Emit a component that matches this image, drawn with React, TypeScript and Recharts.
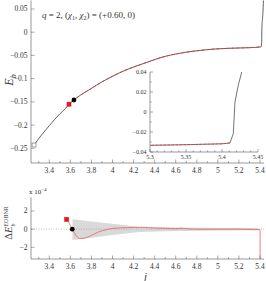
import React from "react";
import { ComposedChart, LineChart, Line, Area, XAxis, YAxis, ReferenceLine } from "recharts";

// binding energy curve E_b(j)
const jMain = [3.255, 3.3, 3.35, 3.4, 3.45, 3.5, 3.55, 3.587, 3.6, 3.634, 3.65, 3.7, 3.8, 3.9, 4.0, 4.1, 4.2, 4.3, 4.4, 4.5, 4.6, 4.7, 4.8, 4.9, 5.0, 5.1, 5.2, 5.3, 5.35, 5.4, 5.411, 5.4157, 5.418, 5.4226, 5.4274, 5.433];
const ebMain = [-0.243, -0.229, -0.215, -0.201, -0.188, -0.176, -0.165, -0.155, -0.152, -0.146, -0.143, -0.135, -0.121, -0.107, -0.095, -0.084, -0.075, -0.067, -0.059, -0.052, -0.047, -0.043, -0.04, -0.0375, -0.0358, -0.0347, -0.034, -0.0333, -0.0327, -0.0318, -0.031, -0.0217, 0.01, 0.0267, 0.04, 0.07];

// markers on the top panel: [open start, red, black]
const topMarkJ = [3.255, 3.587, 3.634];
const topMarkE = [-0.243, -0.155, -0.146];

// difference panel (units of 1e-4)
const jDiff = [3.565, 3.58, 3.6, 3.618, 3.64, 3.66, 3.69, 3.73, 3.78, 3.83, 3.865, 3.92, 3.99, 4.1, 4.2, 4.3, 4.4, 4.5, 4.6, 4.65, 4.7, 4.8, 5.0, 5.2, 5.35, 5.4, 5.402];
const dDiff = [1.08, 0.85, 0.4, 0.0, -0.45, -0.8, -1.03, -1.0, -0.8, -0.5, -0.32, -0.12, 0.06, 0.15, 0.19, 0.2, 0.12, 0.1, 0.05, 0.1, 0.05, 0.0, 0.0, 0.0, -0.05, -0.05, -4];
const jBand = [3.62, 3.8, 4.0, 4.26, 4.5, 4.8, 5.1, 5.38];
const bandLow = [-1.2, -0.95, -0.65, -0.3, -0.22, -0.18, -0.15, -0.13];
const bandHigh = [1.08, 0.85, 0.6, 0.25, 0.2, 0.16, 0.14, 0.12];
const botMarkJ = [3.565, 3.618];
const botMarkD = [1.08, 0];

// ticks
const xAll = [3.3, 3.4, 3.5, 3.6, 3.7, 3.8, 3.9, 4, 4.1, 4.2, 4.3, 4.4, 4.5, 4.6, 4.7, 4.8, 4.9, 5, 5.1, 5.2, 5.3, 5.4];
const xMajor = [3.4, 3.6, 3.8, 4, 4.2, 4.4, 4.6, 4.8, 5, 5.2, 5.4];
const xLabels = ["3.4", "3.6", "3.8", "4", "4.2", "4.4", "4.6", "4.8", "5", "5.2", "5.4"];
const topY = [0.05, 0, -0.05, -0.1, -0.15, -0.2, -0.25];
const topYLabels = ["0.05", "0", "\u22120.05", "\u22120.1", "\u22120.15", "\u22120.2", "\u22120.25"];
const botY = [2, 0, -2];
const botYLabels = ["2", "0", "\u22122"];
const inX = [5.3, 5.31, 5.32, 5.33, 5.34, 5.35, 5.36, 5.37, 5.38, 5.39, 5.4, 5.41, 5.42, 5.43, 5.44, 5.45];
const inXMajor = [5.3, 5.35, 5.4, 5.45];
const inXLabels = ["5.3", "5.35", "5.4", "5.45"];
const inY = [-0.04, -0.03, -0.02, -0.01, 0, 0.01, 0.02, 0.03, 0.04];
const inYMajor = [-0.04, -0.02, 0, 0.02, 0.04];
const inYLabels = ["\u22120.04", "\u22120.02", "0", "0.02", "0.04"];

const mainData = jMain.map((j, i) => ({ j, E: ebMain[i] }));
const redData = mainData.filter((d) => d.j >= 3.587 && d.j <= 5.411);
const diffData = jDiff.map((j, i) => ({ j, d: dDiff[i] }));
const bandData = jBand.map((j, i) => ({ j, range: [bandLow[i], bandHigh[i]] }));

const AX = "#555";
const TXT = "#333";
const FONT = "'Liberation Serif', 'DejaVu Serif', serif";
const RED = "#e53935";

const X_DOM: [number, number] = [3.2263, 5.438];
const TOP_DOM: [number, number] = [-0.2817, 0.0683];
const BOT_DOM: [number, number] = [-3.29, 3.49];

const findIdx = (arr: number[], v: number) => arr.findIndex((m) => Math.abs(m - v) < 1e-6);

function xTick(majors: number[], labels: string[] | null, side: "top" | "bottom", len: number, minor: number, off: number, fs: number) {
  return (p: any) => {
    const k = findIdx(majors, p.payload.value);
    const L = k >= 0 ? len : minor;
    const dir = side === "bottom" ? -1 : 1;
    return (
      <g>
        <line x1={p.x} x2={p.x} y1={p.y} y2={p.y + dir * L} stroke={AX} strokeWidth={0.5} />
        {labels && k >= 0 ? (
          <text x={p.x} y={p.y + off} textAnchor="middle" fontSize={fs} fontFamily={FONT} fill={TXT}>
            {labels[k]}
          </text>
        ) : null}
      </g>
    );
  };
}

function yTick(majors: number[], labels: string[] | null, side: "left" | "right", len: number, minor: number, off: number, fs: number) {
  return (p: any) => {
    const k = findIdx(majors, p.payload.value);
    const L = k >= 0 ? len : minor;
    const dir = side === "left" ? 1 : -1;
    return (
      <g>
        <line x1={p.x} x2={p.x + dir * L} y1={p.y} y2={p.y} stroke={AX} strokeWidth={0.5} />
        {labels && k >= 0 ? (
          <text x={p.x - off} y={p.y + fs * 0.33} textAnchor="end" fontSize={fs} fontFamily={FONT} fill={TXT}>
            {labels[k]}
          </text>
        ) : null}
      </g>
    );
  };
}

const axisLine = { stroke: AX, strokeWidth: 0.6 };

const squareDot = (fill: string, stroke: string) => (p: any) => (
  <rect key={`s${p.cx}`} x={p.cx - 2} y={p.cy - 2} width={4} height={4} fill={fill} stroke={stroke} strokeWidth={0.6} />
);
const circleDot = (p: any) => <circle key={`c${p.cx}`} cx={p.cx} cy={p.cy} r={2.4} fill="#000" />;

function TopPanel() {
  return (
    <ComposedChart width={266} height={176} margin={{ top: 0.5, right: 2, left: 0, bottom: 0 }}>
      <XAxis type="number" dataKey="j" domain={X_DOM} allowDataOverflow ticks={xAll} interval={0} height={13}
        tickLine={false} tickSize={0} tickMargin={0} axisLine={axisLine} tick={xTick(xMajor, xLabels, "bottom", 3.5, 2, 9.5, 7.5)} />
      <XAxis xAxisId="t" orientation="top" type="number" dataKey="j" domain={X_DOM} allowDataOverflow ticks={xAll} interval={0} height={0}
        tickLine={false} tickSize={0} tickMargin={0} axisLine={axisLine} tick={xTick(xMajor, null, "top", 3.5, 2, 0, 7)} />
      <YAxis type="number" domain={TOP_DOM} allowDataOverflow ticks={topY} interval={0} width={31}
        tickLine={false} tickSize={0} tickMargin={0} axisLine={axisLine} tick={yTick(topY, topYLabels, "left", 3.5, 2, 3.5, 7.5)} />
      <YAxis yAxisId="r" orientation="right" type="number" domain={TOP_DOM} allowDataOverflow ticks={topY} interval={0} width={0}
        tickLine={false} tickSize={0} tickMargin={0} axisLine={axisLine} tick={yTick(topY, null, "right", 3.5, 2, 0, 7)} />
      <Line data={mainData} dataKey="E" type="monotone" stroke="#3a3a3a" strokeWidth={0.8} dot={false} isAnimationActive={false} />
      <Line data={redData} dataKey="E" type="monotone" stroke={RED} strokeWidth={0.9} strokeDasharray="3 2" dot={false} isAnimationActive={false} />
      <Line data={[{ j: topMarkJ[0], E: topMarkE[0] }]} dataKey="E" stroke="none" dot={squareDot("#fff", "#666")} isAnimationActive={false} />
      <Line data={[{ j: topMarkJ[1], E: topMarkE[1] }]} dataKey="E" stroke="none" dot={squareDot("#e8141a", "#e8141a")} isAnimationActive={false} />
      <Line data={[{ j: topMarkJ[2], E: topMarkE[2] }]} dataKey="E" stroke="none" dot={circleDot} isAnimationActive={false} />
    </ComposedChart>
  );
}

function InsetPanel() {
  return (
    <LineChart width={140} height={96} margin={{ top: 4, right: 7, left: 0, bottom: 0 }}>
      <XAxis type="number" dataKey="j" domain={[5.3, 5.45]} allowDataOverflow ticks={inX} interval={0} height={12}
        tickLine={false} tickSize={0} tickMargin={0} axisLine={axisLine} tick={xTick(inXMajor, inXLabels, "bottom", 3, 1.6, 6.5, 6)} />
      <XAxis xAxisId="t" orientation="top" type="number" dataKey="j" domain={[5.3, 5.45]} allowDataOverflow ticks={inX} interval={0} height={0}
        tickLine={false} tickSize={0} tickMargin={0} axisLine={axisLine} tick={xTick(inXMajor, null, "top", 3, 1.6, 0, 6)} />
      <YAxis type="number" domain={[-0.04, 0.04]} allowDataOverflow ticks={inY} interval={0} width={25}
        tickLine={false} tickSize={0} tickMargin={0} axisLine={axisLine} tick={yTick(inYMajor, inYLabels, "left", 3, 1.6, 3.5, 6)} />
      <YAxis yAxisId="r" orientation="right" type="number" domain={[-0.04, 0.04]} allowDataOverflow ticks={inY} interval={0} width={0}
        tickLine={false} tickSize={0} tickMargin={0} axisLine={axisLine} tick={yTick(inYMajor, null, "right", 3, 1.6, 0, 6)} />
      <Line data={mainData} dataKey="E" type="linear" stroke="#3a3a3a" strokeWidth={0.7} dot={false} isAnimationActive={false} />
      <Line data={redData} dataKey="E" type="linear" stroke={RED} strokeWidth={0.8} strokeDasharray="2.5 1.5" dot={false} isAnimationActive={false} />
    </LineChart>
  );
}

function BottomPanel() {
  return (
    <ComposedChart width={266} height={91} margin={{ top: 7.5, right: 2, left: 0, bottom: 0 }}>
      <XAxis type="number" dataKey="j" domain={X_DOM} allowDataOverflow ticks={xAll} interval={0} height={22}
        tickLine={false} tickSize={0} tickMargin={0} axisLine={axisLine} tick={xTick(xMajor, xLabels, "bottom", 3.5, 2, 9.5, 7.5)} />
      <XAxis xAxisId="t" orientation="top" type="number" dataKey="j" domain={X_DOM} allowDataOverflow ticks={xAll} interval={0} height={0}
        tickLine={false} tickSize={0} tickMargin={0} axisLine={axisLine} tick={xTick(xMajor, null, "top", 3.5, 2, 0, 7)} />
      <YAxis type="number" domain={BOT_DOM} allowDataOverflow ticks={botY} interval={0} width={31}
        tickLine={false} tickSize={0} tickMargin={0} axisLine={axisLine} tick={yTick(botY, botYLabels, "left", 3.5, 2, 3.5, 7.5)} />
      <YAxis yAxisId="r" orientation="right" type="number" domain={BOT_DOM} allowDataOverflow ticks={botY} interval={0} width={0}
        tickLine={false} tickSize={0} tickMargin={0} axisLine={axisLine} tick={yTick(botY, null, "right", 3.5, 2, 0, 7)} />
      <Area data={bandData} dataKey="range" type="linear" stroke="none" fill="#d9d9d9" fillOpacity={1} isAnimationActive={false} />
      <ReferenceLine y={0} stroke="#999" strokeWidth={0.6} strokeDasharray="1 1.5" />
      <Line data={diffData} dataKey="d" type="monotone" stroke="#f06a6a" strokeWidth={0.9} dot={false} isAnimationActive={false} />
      <Line data={[{ j: botMarkJ[0], d: botMarkD[0] }]} dataKey="d" stroke="none" dot={squareDot("#e8141a", "#e8141a")} isAnimationActive={false} />
      <Line data={[{ j: botMarkJ[1], d: botMarkD[1] }]} dataKey="d" stroke="none" dot={circleDot} isAnimationActive={false} />
    </ComposedChart>
  );
}

export default function App() {
  return (
    <div style={{ position: "relative", width: 266, height: 281, background: "#fff", overflow: "hidden" }}>
      <style>{"body{margin:0}"}</style>
      <div style={{ position: "absolute", left: 0, top: 0 }}>
        <TopPanel />
      </div>
      <div style={{ position: "absolute", left: 125, top: 68 }}>
        <InsetPanel />
      </div>
      <div style={{ position: "absolute", left: 0, top: 190 }}>
        <BottomPanel />
      </div>
      <svg width={266} height={281} style={{ position: "absolute", left: 0, top: 0, pointerEvents: "none" }}>
        <text x={42} y={18} fontSize={9} fontFamily={FONT} fill={TXT}>
          <tspan fontStyle="italic">q</tspan>
          <tspan> = 2, (</tspan>
          <tspan fontStyle="italic">χ</tspan>
          <tspan fontSize={6} dy={2}>1</tspan>
          <tspan dy={-2}>, </tspan>
          <tspan fontStyle="italic">χ</tspan>
          <tspan fontSize={6} dy={2}>2</tspan>
          <tspan dy={-2}>) = (+0.60, 0)</tspan>
        </text>
        <text transform="translate(13,80) rotate(-90)" textAnchor="middle" fontSize={12} fontFamily={FONT} fill={TXT}>
          <tspan fontStyle="italic">E</tspan>
          <tspan fontSize={8} dy={2.5} fontStyle="italic">b</tspan>
        </text>
        <text transform="translate(12,223) rotate(-90)" textAnchor="middle" fontSize={10.5} fontFamily={FONT} fill={TXT}>
          <tspan>Δ</tspan>
          <tspan fontStyle="italic">E</tspan>
          <tspan fontSize={6} dy={2.5} fontStyle="italic">b</tspan>
          <tspan fontSize={6} dx={-3} dy={-7}>EOBNR</tspan>
        </text>
        <text x={29} y={194} fontSize={7} fontFamily={FONT} fill={TXT}>
          x 10<tspan fontSize={5} dy={-3}>−4</tspan>
        </text>
        <text x={144} y={280} fontSize={11} fontStyle="italic" fontFamily={FONT} fill={TXT}>j</text>
      </svg>
    </div>
  );
}
